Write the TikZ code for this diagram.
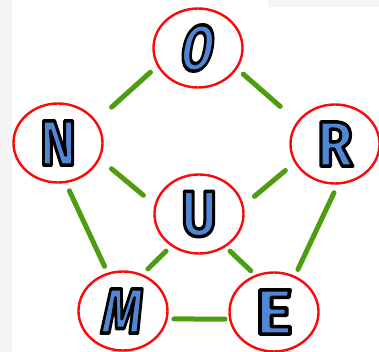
\documentclass[tikz,border=0pt]{standalone}
\usepackage{fontspec}
\setmainfont{Fira Sans}
\usetikzlibrary{shapes.geometric}
\definecolor{ringred}{RGB}{250,10,10}
\definecolor{linkgreen}{RGB}{76,158,16}
\definecolor{letterblue}{RGB}{80,135,212}
\definecolor{bggray}{RGB}{244,244,244}
% fill the glyph in the text colour, stroke its outline in black
\newcommand\inked[1]{\special{pdf:literal direct 2 Tr 3.5 w 1 J 1 j 0 0 0 RG}#1\special{pdf:literal direct 0 Tr}}
\begin{document}
\begin{tikzpicture}[x=1pt,y=-1pt,
  ring/.style={ellipse, draw=ringred, line width=2.4pt, fill=white, inner sep=0pt, minimum width=89pt, minimum height=79pt},
  link/.style={draw=linkgreen, line width=5pt, line cap=round},
  letter/.style={font=\fontsize{64}{64}\selectfont\bfseries, text=letterblue, inner sep=0pt}]
\fill[bggray] (0,0) rectangle (12,352);
\fill[bggray] (268,0) rectangle (379,7);
\useasboundingbox (0,0) rectangle (379,352);
\node[ring] (O) at (198,48) {};
\node[ring] (N) at (58,143) {};
\node[ring] (R) at (335,144) {};
\node[ring] (U) at (199,214) {};
\node[ring] (M) at (123,311) {};
\node[ring] (E) at (274,312) {};
\draw[link, shorten <=9pt, shorten >=20.5pt] (O.204) -- (N.30);
\draw[link, shorten <=8pt, shorten >=22.5pt] (O.332) -- (R.149);
\draw[link, shorten <=15pt, shorten >=14.5pt] (N.339) -- (U.168);
\draw[link, shorten <=12pt, shorten >=14pt] (R.205) -- (U.11);
\draw[link, shorten <=8.5pt, shorten >=7pt] (N.281) -- (M.112);
\draw[link, shorten <=9pt, shorten >=7pt] (R.274) -- (E.60);
\draw[link, shorten <=7pt, shorten >=7.5pt] (U.229) -- (M.62);
\draw[link, shorten <=6pt, shorten >=6pt] (U.309) -- (E.117);
\draw[link, shorten <=6pt, shorten >=4pt] (M.350) -- (E.189);
% letters
\foreach \l/\w/\s in {O/0.72/0.25,N/0.85/0,R/0.9/0,U/0.85/0,M/0.8/0.2,E/1.1/0}
  \node[letter, xscale=\w, xslant=\s] (\l-text) at (\l) {\inked{\l}};
\end{tikzpicture}
\end{document}
